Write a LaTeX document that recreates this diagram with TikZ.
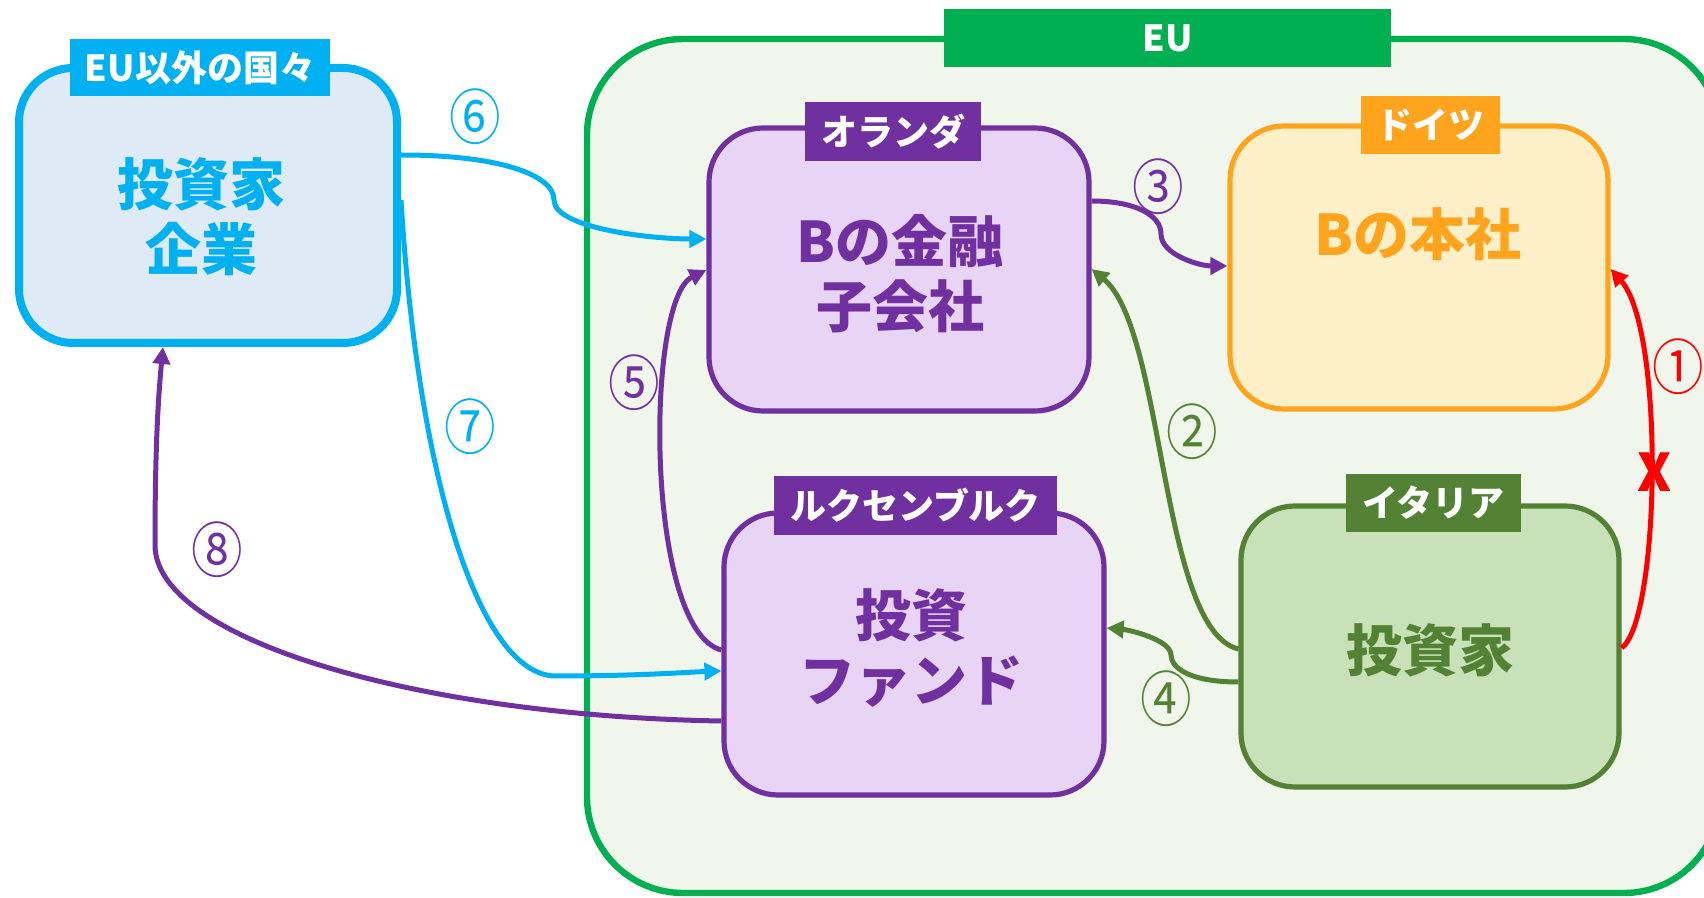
\documentclass[tikz,border=0pt]{standalone}
\usepackage{fontspec}
\setmainfont{Noto Sans CJK JP}
\usetikzlibrary{arrows.meta}
\definecolor{cBlue}{HTML}{00B0F0}
\definecolor{fBlue}{HTML}{DEEBF7}
\definecolor{cPur}{HTML}{7030A0}
\definecolor{fPur}{HTML}{E8D5F6}
\definecolor{cOra}{HTML}{FFA41C}
\definecolor{fOra}{HTML}{FDF0C9}
\definecolor{cGrn}{HTML}{548235}
\definecolor{fGrn}{HTML}{C8E1B9}
\definecolor{cEU}{HTML}{00B050}
\definecolor{fEU}{HTML}{F1F6EC}
\definecolor{cRed}{HTML}{FF0000}
\newcommand{\circnum}[1]{\scalebox{0.86}[1]{#1}}
\begin{document}
\begin{tikzpicture}[x=0.5pt,y=-0.5pt,
  box/.style={draw, rounded corners=27pt, line width=2.6pt, inner sep=0pt},
  tagbox/.style={inner sep=0pt, text=white, font=\bfseries\fontsize{18}{20}\selectfont},
  big/.style={font=\bfseries\fontsize{28}{32.5}\selectfont, align=center},
  num/.style={font=\fontsize{30}{32}\selectfont, inner sep=0pt},
  link/.style={line width=2.5pt, -{Triangle[length=8.5pt,width=8.5pt]}},
]
\useasboundingbox (0,0) rectangle (1704,898);
\clip (0,0) rectangle (1704,898);
% EU region
\node[draw=cEU, fill=fEU, line width=3.2pt, rounded corners=48pt, inner sep=0pt,
      minimum width=566.5pt, minimum height=427pt] (eu) at (1153.5,466) {};
% boxes
\node[box, draw=cBlue, fill=fBlue, line width=4pt, minimum width=189pt, minimum height=137.5pt] (nonEU) at (208,205.5) {};
\node[box, draw=cPur, fill=fPur, minimum width=190pt, minimum height=141.5pt] (NL) at (899,269.5) {};
\node[box, draw=cOra, fill=fOra, minimum width=189pt, minimum height=141.5pt] (DE) at (1419,267.5) {};
\node[box, draw=cGrn, fill=fGrn, minimum width=189pt, minimum height=140.5pt] (IT) at (1430,646.5) {};
\node[box, draw=cPur, fill=fPur, minimum width=190pt, minimum height=141pt] (LU) at (914,654) {};
% tags
\node[tagbox, fill=cBlue, minimum width=130pt, minimum height=28.5pt] (tagNon) at (200,67.5) {EU以外の国々};
\node[tagbox, fill=cEU, minimum width=223.5pt, minimum height=29pt] (tagEU) at (1167.5,38) {EU};
\node[tagbox, fill=cPur, minimum width=88pt, minimum height=29.5pt] (tagNL) at (893,131.5) {オランダ};
\node[tagbox, fill=cOra, minimum width=69.5pt, minimum height=29pt] (tagDE) at (1430.5,125) {ドイツ};
\node[tagbox, fill=cGrn, minimum width=87.5pt, minimum height=29pt] (tagIT) at (1433.5,503) {イタリア};
\node[tagbox, fill=cPur, minimum width=141.5pt, minimum height=29.5pt] (tagLU) at (915.5,505.5) {ルクセンブルク};
% texts
\node[big, text=cBlue] (txNon) at (201,216.5) {投資家\\企業};
\node[big, text=cPur] (txNL) at (900,273.5) {Bの金融\\子会社};
\node[big, text=cOra] (txDE) at (1418,234) {Bの本社};
\node[big, text=cGrn] (txIT) at (1430,650) {投資家};
\node[big, text=cPur] (txLU) at (911,648.5) {投資\\ファンド};
% connectors
\draw[link, cBlue] (nonEU.east |- 0,155) .. controls (500,155) and (554,175) .. (554,200)
   .. controls (554,228) and (650,239) .. (NL.west |- 0,239);
\draw[link, cBlue] (nonEU.east |- 0,200) .. controls (418,480) and (480,676) .. (556,676)
   .. controls (640,676) and (690,672) .. (LU.west |- 0,671);
\draw[link, cPur] (LU.west |- 0,721) .. controls (420,716) and (155,640) .. (155,545)
   .. controls (155,450) and (158,400) .. (nonEU.south -| 163,0);
\draw[link, cPur] (LU.west |- 0,650) .. controls (645,630) and (645,300) .. (NL.west |- 0,270);
\draw[link, cPur] (NL.east |- 0,201) .. controls (1135,201) and (1161,215) .. (1161,234)
   .. controls (1161,255) and (1200,266) .. (DE.west |- 0,266);
\draw[link, cGrn] (IT.west |- 0,649) .. controls (1160,630) and (1165,330) .. (NL.east |- 0,269);
\draw[link, cGrn] (IT.west |- 0,682) .. controls (1190,682) and (1171,668) .. (1171,655)
   .. controls (1171,640) and (1130,630) .. (LU.east |- 0,628);
\draw[link, cRed] (IT.east |- 0,648) .. controls (1660,620) and (1665,330) .. (DE.east |- 0,269);
% labels
\node[num, text=cBlue] (n6) at (475,117) {\circnum{⑥}};
\node[num, text=cBlue] (n7) at (470,427) {\circnum{⑦}};
\node[num, text=cPur] (n8) at (217,550) {\circnum{⑧}};
\node[num, text=cPur] (n5) at (634,383) {\circnum{⑤}};
\node[num, text=cPur] (n3) at (1158,187) {\circnum{③}};
\node[num, text=cGrn] (n2) at (1192,432) {\circnum{②}};
\node[num, text=cGrn] (n4) at (1166,699) {\circnum{④}};
\node[num, text=cRed] (n1) at (1678,367) {\circnum{①}};
\node[inner sep=0pt, text=cRed, font=\bfseries\fontsize{26}{28}\selectfont] (xmark) at (1655,472) {X};
\end{tikzpicture}
\end{document}
